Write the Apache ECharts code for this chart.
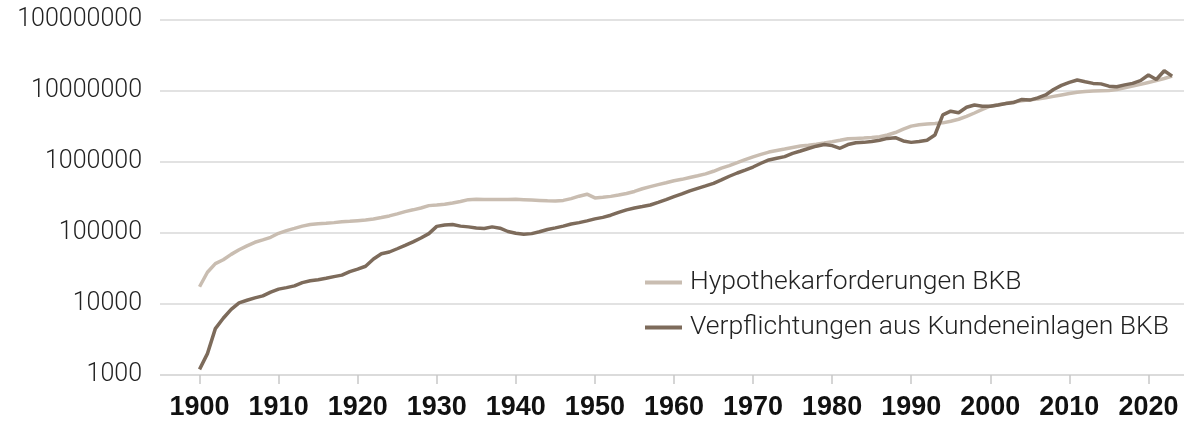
<!DOCTYPE html>
<html lang="de">
<head>
    <meta charset="UTF-8">
    <title>BKB</title>
    <script src="https://cdn.jsdelivr.net/npm/echarts@6/dist/echarts.min.js"></script>
    <style>
        html, body { margin: 0; padding: 0; background: #fff; }
    </style>
</head>
<body>
<div id="main" style="width: 1184px;height:427px;"></div>

<script type="text/javascript">
    // Jahre 1900 - 2023
    var years = [];
    for (var y = 1900; y <= 2023; y++) years.push(y);

    var tickYears = [1900, 1910, 1920, 1930, 1940, 1950, 1960, 1970, 1980, 1990, 2000, 2010, 2020];

    var hypothek = [
        17500, 28000, 37000, 42000, 50000, 58000, 66000, 74000, 80000, 87000,
        99000, 108000, 116000, 125000, 132000, 135000, 137000, 140000, 144000, 146000,
        149000, 152000, 157000, 165000, 174000, 186000, 200000, 212000, 225000, 243000,
        248000, 254000, 265000, 278000, 295000, 298000, 297000, 297000, 296000, 297000,
        298000, 295000, 292000, 288000, 284000, 283000, 288000, 305000, 330000, 352000,
        312000, 318000, 328000, 342000, 360000, 385000, 420000, 450000, 480000, 510000,
        545000, 570000, 605000, 640000, 680000, 740000, 820000, 890000, 980000, 1080000,
        1180000, 1280000, 1380000, 1450000, 1520000, 1600000, 1680000, 1720000, 1780000, 1850000,
        1930000, 2020000, 2120000, 2150000, 2180000, 2220000, 2270000, 2400000, 2600000, 2900000,
        3200000, 3350000, 3430000, 3480000, 3560000, 3750000, 4000000, 4400000, 4900000, 5500000,
        6100000, 6400000, 6700000, 7000000, 7300000, 7500000, 7700000, 8000000, 8400000, 8800000,
        9200000, 9600000, 9850000, 10000000, 10100000, 10200000, 10500000, 11100000, 11700000, 12400000,
        13200000, 14000000, 15000000, 16200000
    ];

    var kundeneinlagen = [
        1200, 2000, 4500, 6300, 8400, 10400, 11300, 12200, 13000, 14700,
        16200, 17000, 18000, 20000, 21200, 22000, 23000, 24300, 25500, 28500,
        31000, 34000, 43000, 51000, 54000, 60000, 67000, 75000, 85000, 98000,
        124000, 130000, 132000, 125000, 122000, 118000, 116000, 122000, 117000, 105000,
        99000, 96000, 98000, 104000, 112000, 118000, 125000, 134000, 140000, 148000,
        158000, 166000, 178000, 195000, 212000, 225000, 236000, 248000, 270000, 295000,
        325000, 355000, 392000, 425000, 460000, 500000, 560000, 630000, 700000, 770000,
        850000, 960000, 1070000, 1130000, 1190000, 1320000, 1430000, 1550000, 1670000, 1760000,
        1700000, 1560000, 1760000, 1870000, 1890000, 1940000, 2030000, 2150000, 2200000, 1980000,
        1890000, 1940000, 2020000, 2400000, 4600000, 5200000, 4950000, 5900000, 6340000, 6100000,
        6100000, 6350000, 6650000, 6900000, 7600000, 7450000, 8000000, 8800000, 10500000, 12000000,
        13200000, 14300000, 13500000, 12800000, 12600000, 11700000, 11500000, 12200000, 12800000, 14000000,
        16800000, 14500000, 19300000, 16200000
    ];

    function pairs(vals) {
        return years.map(function (yr, i) { return [yr, vals[i]]; });
    }

    var myChart = echarts.init(document.getElementById('main'));

    var option = {
        animation: false,
        grid: { left: 160, right: 0, top: 20, bottom: 52 },
        legend: {
            orient: 'vertical',
            left: 645,
            top: 269,
            padding: 0,
            itemGap: 18,
            itemWidth: 37,
            itemHeight: 4,
            icon: 'rect',
            textStyle: {
                fontFamily: 'Roboto',
                fontWeight: 300,
                fontSize: 26.5,
                color: '#222',
                padding: [0, 0, 0, 3]
            },
            data: ['Hypothekarforderungen BKB', 'Verpflichtungen aus Kundeneinlagen BKB']
        },
        xAxis: {
            type: 'value',
            min: 1895,
            max: 2024.5,
            splitLine: { show: false },
            axisLine: { show: false },
            axisTick: {
                show: true,
                length: 9,
                customValues: tickYears,
                lineStyle: { color: '#c8c8c8', width: 1.5 }
            },
            axisLabel: {
                customValues: tickYears,
                margin: 19,
                fontFamily: 'Liberation Sans',
                fontWeight: 'bold',
                fontSize: 27,
                color: '#111',
                formatter: function (v) { return String(v); }
            }
        },
        yAxis: {
            type: 'log',
            logBase: 10,
            min: 1000,
            max: 100000000,
            axisLine: { show: false },
            axisTick: { show: false },
            splitLine: { lineStyle: { color: '#d9d9d9', width: 1.5 } },
            axisLabel: {
                margin: 18,
                fontFamily: 'Roboto',
                fontWeight: 300,
                fontSize: 25,
                color: '#222',
                formatter: function (v) { return String(Math.round(v)); }
            }
        },
        series: [
            {
                name: 'Hypothekarforderungen BKB',
                type: 'line',
                showSymbol: false,
                color: '#c9bdb1',
                lineStyle: { width: 3.5, color: '#c9bdb1' },
                data: pairs(hypothek)
            },
            {
                name: 'Verpflichtungen aus Kundeneinlagen BKB',
                type: 'line',
                showSymbol: false,
                color: '#7d6b5b',
                lineStyle: { width: 3.5, color: '#7d6b5b' },
                data: pairs(kundeneinlagen)
            }
        ]
    };
    myChart.setOption(option);
</script>
</body>
</html>
